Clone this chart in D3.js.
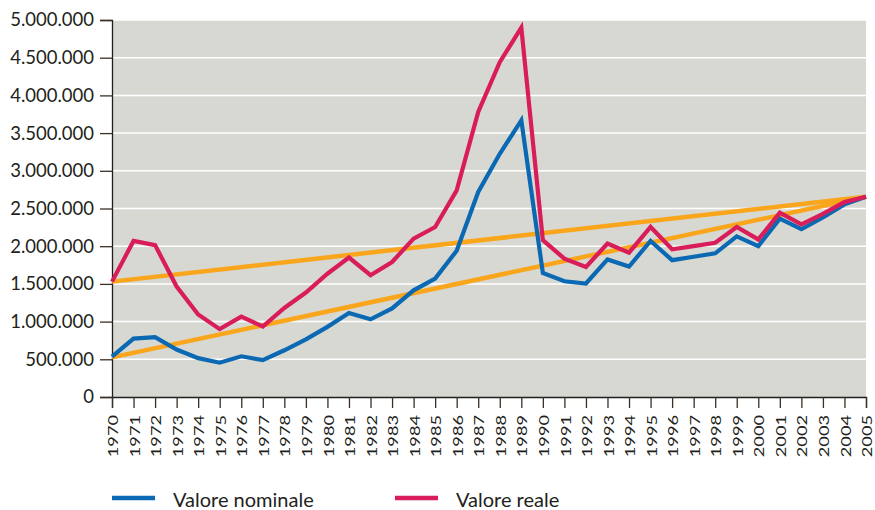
<!DOCTYPE html>
<html>
<head>
<meta charset="utf-8">
<script src="https://cdn.jsdelivr.net/npm/d3@7"></script>
<style>
  html, body { margin: 0; padding: 0; background: #ffffff; }
  svg text { font-family: Lato, "Liberation Sans", sans-serif; fill: #231f20; }
</style>
</head>
<body>
<svg id="chart" width="875" height="510"></svg>
<script>
// Anni (categorie dell'asse x)
const years = [1970, 1971, 1972, 1973, 1974, 1975, 1976, 1977, 1978, 1979,
  1980, 1981, 1982, 1983, 1984, 1985, 1986, 1987, 1988, 1989,
  1990, 1991, 1992, 1993, 1994, 1995, 1996, 1997, 1998, 1999,
  2000, 2001, 2002, 2003, 2004, 2005];

// Valore nominale
const nominale = [535000, 775000, 795000, 630000, 515000, 455000, 540000, 490000, 620000, 765000,
  930000, 1115000, 1030000, 1175000, 1415000, 1570000, 1940000, 2720000, 3225000, 3670000,
  1645000, 1535000, 1505000, 1825000, 1730000, 2070000, 1815000, 1860000, 1905000, 2130000,
  2000000, 2365000, 2225000, 2380000, 2555000, 2655000];

// Valore reale
const reale = [1530000, 2070000, 2015000, 1465000, 1095000, 900000, 1065000, 935000, 1180000, 1385000,
  1635000, 1850000, 1615000, 1790000, 2100000, 2255000, 2740000, 3780000, 4440000, 4900000,
  2080000, 1835000, 1725000, 2035000, 1915000, 2255000, 1960000, 2000000, 2045000, 2255000,
  2090000, 2445000, 2290000, 2430000, 2585000, 2655000];

// Linee di tendenza (estremi)
const trendYears = [1970, 2005];
const trendNominale = [525000, 2655000];
const trendReale = [1530000, 2655000];

// Tacche asse y
const yTicks = [0, 500000, 1000000, 1500000, 2000000, 2500000, 3000000, 3500000, 4000000, 4500000, 5000000];

const legendItems = [
  { label: "Valore nominale", color: "#0a69b2" },
  { label: "Valore reale", color: "#d81d5a" }
];

const colors = { nominale: "#0a69b2", reale: "#d81d5a", trend: "#f9a61c", bg: "#d8d8d3" };

const svg = d3.select("#chart");
const margin = { left: 112, right: 9, top: 20, bottom: 113 };
const W = 875, H = 510;
const x0 = margin.left, x1 = W - margin.right;
const y0 = H - margin.bottom, y1 = margin.top;

const x = d3.scaleLinear().domain([years[0], years[years.length - 1]]).range([x0, x1]);
const y = d3.scaleLinear().domain([0, 5000000]).range([y0, y1]);

const it = d3.formatLocale({ decimal: ",", thousands: ".", grouping: [3], currency: ["€", ""] });
const fmt = it.format(",d");

// Sfondo area del grafico
svg.append("rect")
  .attr("x", x0).attr("y", y1)
  .attr("width", x1 - x0).attr("height", y0 - y1)
  .attr("fill", colors.bg);

// Griglia orizzontale
svg.append("g")
  .selectAll("line")
  .data(yTicks.filter(d => d > 0))
  .join("line")
  .attr("x1", x0).attr("x2", x1)
  .attr("y1", d => y(d)).attr("y2", d => y(d))
  .attr("stroke", "#ffffff")
  .attr("stroke-width", 1.5);

// Asse y
const yAxis = svg.append("g")
  .attr("transform", `translate(${x0},0)`)
  .call(d3.axisLeft(y).tickValues(yTicks).tickFormat(fmt).tickSize(12).tickPadding(6));
yAxis.select(".domain").attr("stroke", "#231f20").attr("stroke-width", 1.3);
yAxis.selectAll(".tick line").attr("stroke", "#3a3026").attr("stroke-width", 1.3);
yAxis.selectAll("text").attr("font-size", 18.5).attr("fill", "#231f20");

// Asse x: etichette verticali, allungate lungo la direzione del testo
const stretch = 1.3;
const xAxis = svg.append("g")
  .attr("transform", `translate(0,${y0})`)
  .call(d3.axisBottom(x).tickValues(years).tickFormat(d => String(d)).tickSize(11).tickPadding(6));
xAxis.select(".domain").attr("stroke", "#231f20").attr("stroke-width", 1.3);
xAxis.selectAll(".tick line").attr("stroke", "#3a3026").attr("stroke-width", 1.3);
xAxis.selectAll("text")
  .attr("font-size", 14)
  .attr("fill", "#231f20")
  .attr("text-anchor", "end")
  .attr("dominant-baseline", "central")
  .attr("transform", `rotate(-90) scale(${stretch},1)`)
  .attr("x", -18 / stretch)
  .attr("y", 0)
  .attr("dy", null);

const line = d3.line().x(d => x(d[0])).y(d => y(d[1]));

// Linee di tendenza
[trendNominale, trendReale].forEach(vals => {
  svg.append("path")
    .datum(trendYears.map((yr, i) => [yr, vals[i]]))
    .attr("d", line)
    .attr("fill", "none")
    .attr("stroke", colors.trend)
    .attr("stroke-width", 4.5);
});

// Serie
svg.append("path")
  .datum(years.map((yr, i) => [yr, nominale[i]]))
  .attr("d", line)
  .attr("fill", "none")
  .attr("stroke", colors.nominale)
  .attr("stroke-width", 4.2);

svg.append("path")
  .datum(years.map((yr, i) => [yr, reale[i]]))
  .attr("d", line)
  .attr("fill", "none")
  .attr("stroke", colors.reale)
  .attr("stroke-width", 4.2);

// Legenda
const legX = [112, 395];
const leg = svg.append("g");
legendItems.forEach((d, i) => {
  const g = leg.append("g").attr("transform", `translate(${legX[i]},498)`);
  g.append("line").attr("x1", 0).attr("x2", 43).attr("y1", 0).attr("y2", 0)
    .attr("stroke", d.color).attr("stroke-width", 4.5);
  g.append("text").attr("x", 61).attr("y", 9).attr("font-size", 20).text(d.label);
});
</script>
</body>
</html>
